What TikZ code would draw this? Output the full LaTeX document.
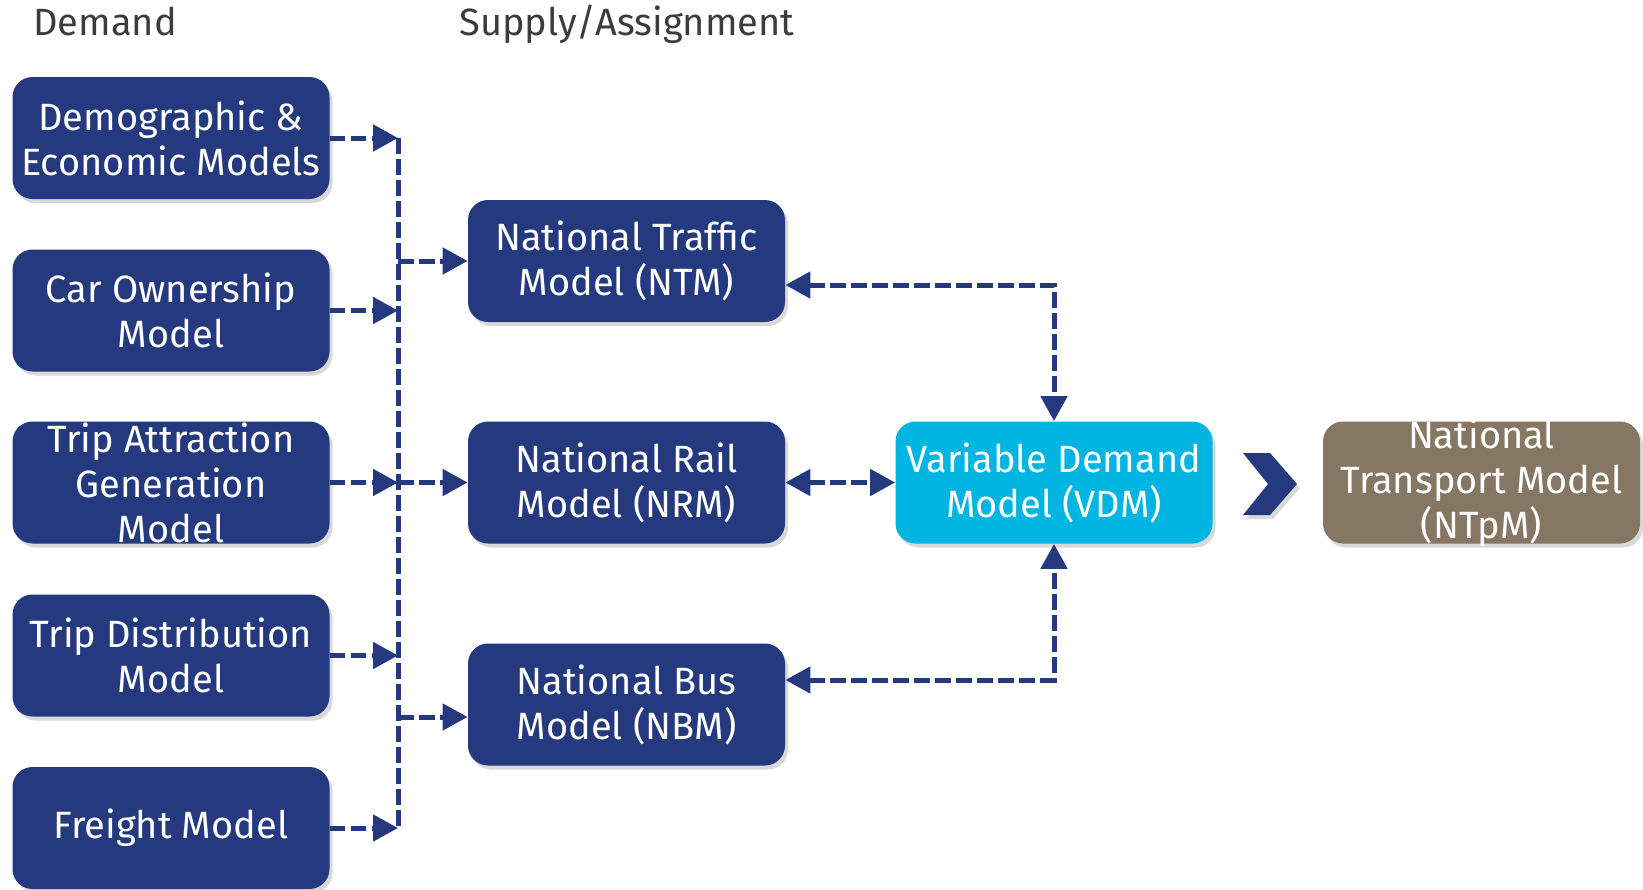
\documentclass[tikz,border=0pt]{standalone}
\usepackage{fontspec}
\setmainfont{Fira Sans}
\usetikzlibrary{arrows.meta, shadows}

\definecolor{navy}{RGB}{37,57,126}
\definecolor{vdmblue}{RGB}{0,181,226}
\definecolor{ntpmbrown}{RGB}{133,119,99}
\definecolor{headgray}{RGB}{60,60,60}

\tikzset{
  model/.style={rectangle, rounded corners=10pt, fill=navy, text=white,
    minimum width=158.5pt, minimum height=61pt, inner xsep=2pt, inner ysep=-4pt,
    align=center, font=\fontsize{19}{22.5}\selectfont,
    drop shadow={shadow xshift=1.5pt, shadow yshift=-2pt, opacity=0.3}},
  busline/.style={navy, line width=2.5pt, dash pattern=on 7.75pt off 2.75pt},
  link/.style={busline, -{Triangle[length=12.5pt,width=13pt]}},
  twoway/.style={link, {Triangle[length=12.5pt,width=13pt]}-{Triangle[length=12.5pt,width=13pt]}},
  header/.style={anchor=base west, text=headgray, inner sep=0pt, font=\fontsize{19}{22}\selectfont}
}

\begin{document}
\begin{tikzpicture}[x=0.5pt, y=-0.5pt]
\useasboundingbox (0,0) rectangle (1643,889);

\node[header] (demand) at (33,35) {Demand};
\node[header] (supply) at (459,35) {Supply/Assignment};

% demand side
\node[model] (demo) at (171,138) {Demographic \&\\Economic Models};
\node[model] (car) at (171,310.5) {Car Ownership\\Model};
\node[model] (trip) at (171,482.5) {Trip Attraction\\Generation\\Model};
\node[model] (dist) at (171,655.5) {Trip Distribution\\Model};
\node[model] (freight) at (171,828) {Freight Model};

% supply side
\node[model] (ntm) at (626.5,261) {National Traffic\\Model (NTM)};
\node[model] (nrm) at (626.5,482.5) {National Rail\\Model (NRM)};
\node[model] (nbm) at (626.5,704.5) {National Bus\\Model (NBM)};

\node[model, fill=vdmblue] (vdm) at (1054,482.5) {Variable Demand\\Model (VDM)};
\node[model, fill=ntpmbrown] (ntpm) at (1481.5,482.5) {National\\Transport Model\\(NTpM)};

\coordinate (bustop) at (398,138);
\coordinate (busbot) at (398,828);
\coordinate (nbmin) at ([yshift=-6.25pt]nbm.west);
\coordinate (ntmout) at ([yshift=-12pt]ntm.east);
\coordinate (nbmout) at ([yshift=12.25pt]nbm.east);
\draw[busline] (bustop) -- (busbot);

\draw[link] (demo.east) -- (demo.east -| bustop);
\draw[link] (car.east) -- (car.east -| bustop);
\draw[link] (trip.east) -- (trip.east -| bustop);
\draw[link] (dist.east) -- (dist.east -| bustop);
\draw[link] (freight.east) -- (freight.east -| bustop);

\draw[link] (bustop |- ntm.west) -- (ntm.west);
\draw[link] (bustop |- nrm.west) -- (nrm.west);
\draw[link] (bustop |- nbmin) -- (nbmin);

\draw[twoway] (ntmout) -| (vdm.north);
\draw[twoway] (nrm.east) -- (vdm.west);
\draw[twoway] (nbmout) -| (vdm.south);

% chevron
\fill[navy, drop shadow={shadow xshift=1.5pt, shadow yshift=-2pt, opacity=0.3}]
  (1243,453) -- (1270,453) -- (1297,484) -- (1270,515) -- (1243,515) -- (1268,484) -- cycle;

\end{tikzpicture}
\end{document}
